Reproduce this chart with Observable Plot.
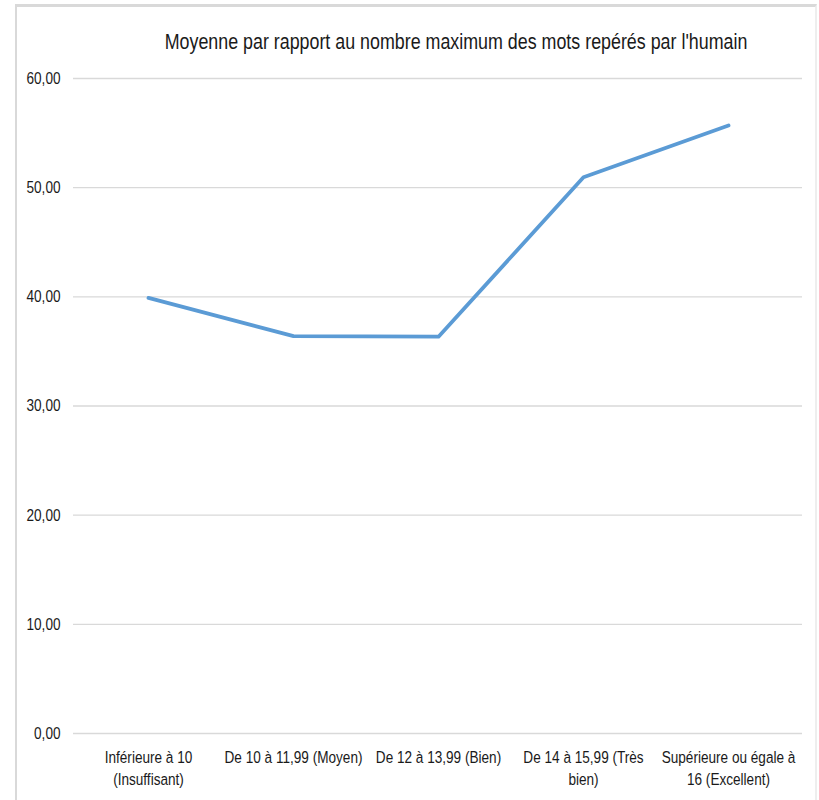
<!DOCTYPE html>
<html>
<head>
<meta charset="utf-8">
<script src="https://cdn.jsdelivr.net/npm/d3@7"></script>
<script src="https://cdn.jsdelivr.net/npm/@observablehq/plot@0.6"></script>
<style>
  html, body { margin: 0; padding: 0; background: #fff; }
  #wrap { position: relative; width: 819px; height: 800px; overflow: hidden; background: #fff; }
  #frame { position: absolute; left: 15px; top: 4px; width: 802px; height: 820px; border-left: 2px solid #d9d9d9; border-top: 3px solid #d9d9d9; border-right: 2px solid #eeeeee; box-sizing: border-box; }
  #title { position: absolute; left: 0; top: 30px; width: 912px; text-align: center; font-family: "Liberation Sans", Arial, sans-serif; font-size: 21.5px; color: #1a1a1a; white-space: nowrap; transform: scaleX(0.83); transform-origin: 456px 0; }
  #chart { position: absolute; left: 0; top: 70px; }
</style>
</head>
<body>
<div id="wrap">
  <div id="frame"></div>
  <div id="title">Moyenne par rapport au nombre maximum des mots repérés par l'humain</div>
  <div id="chart"></div>
</div>
<script>
const categories = [
  "Inférieure à 10 (Insuffisant)",
  "De 10 à 11,99 (Moyen)",
  "De 12 à 13,99 (Bien)",
  "De 14 à 15,99 (Très bien)",
  "Supérieure ou égale à 16 (Excellent)"
];
const tickLabels = [
  "Inférieure à 10\n(Insuffisant)",
  "De 10 à 11,99 (Moyen)",
  "De 12 à 13,99 (Bien)",
  "De 14 à 15,99 (Très\nbien)",
  "Supérieure ou égale à\n16 (Excellent)"
];
const values = [39.9, 36.4, 36.35, 50.95, 55.7];
const yTicks = [0, 10, 20, 30, 40, 50, 60];

const data = categories.map((c, i) => ({ cat: c, value: values[i] }));
const font = '"Liberation Sans", Arial, sans-serif';

const chart = Plot.plot({
  width: 819,
  height: 730,
  marginTop: 8,
  marginBottom: 67,
  marginLeft: 73,
  marginRight: 17,
  style: { fontFamily: font, fontSize: "17px", color: "#1a1a1a", background: "transparent", overflow: "visible" },
  x: { type: "point", domain: categories, padding: 0.5 },
  y: { domain: [0, 60] },
  marks: [
    Plot.ruleY(yTicks, { stroke: "#d9d9d9", strokeWidth: 1.3 }),
    Plot.axisY({
      ticks: yTicks,
      tickSize: 0,
      tickPadding: 13,
      label: null,
      fontSize: 17,
      tickFormat: d => d.toFixed(2).replace(".", ","),
      fill: "#1a1a1a"
    }),
    Plot.axisX({
      tickSize: 0,
      tickPadding: 14,
      label: null,
      fontSize: 17,
      lineHeight: 1.28,
      tickFormat: d => tickLabels[categories.indexOf(d)],
      fill: "#1a1a1a"
    }),
    Plot.line(data, { x: "cat", y: "value", stroke: "#5b9bd5", strokeWidth: 3.8, strokeLinejoin: "round", strokeLinecap: "round" })
  ]
});
// condense the axis labels horizontally (narrow font look), around each label's anchor
d3.select(chart).selectAll("g[aria-label$='tick label'] text").each(function () {
  const t = this.getAttribute("transform") || "";
  this.setAttribute("transform", t + " scale(0.8,1)");
});
document.getElementById("chart").appendChild(chart);
</script>
</body>
</html>
